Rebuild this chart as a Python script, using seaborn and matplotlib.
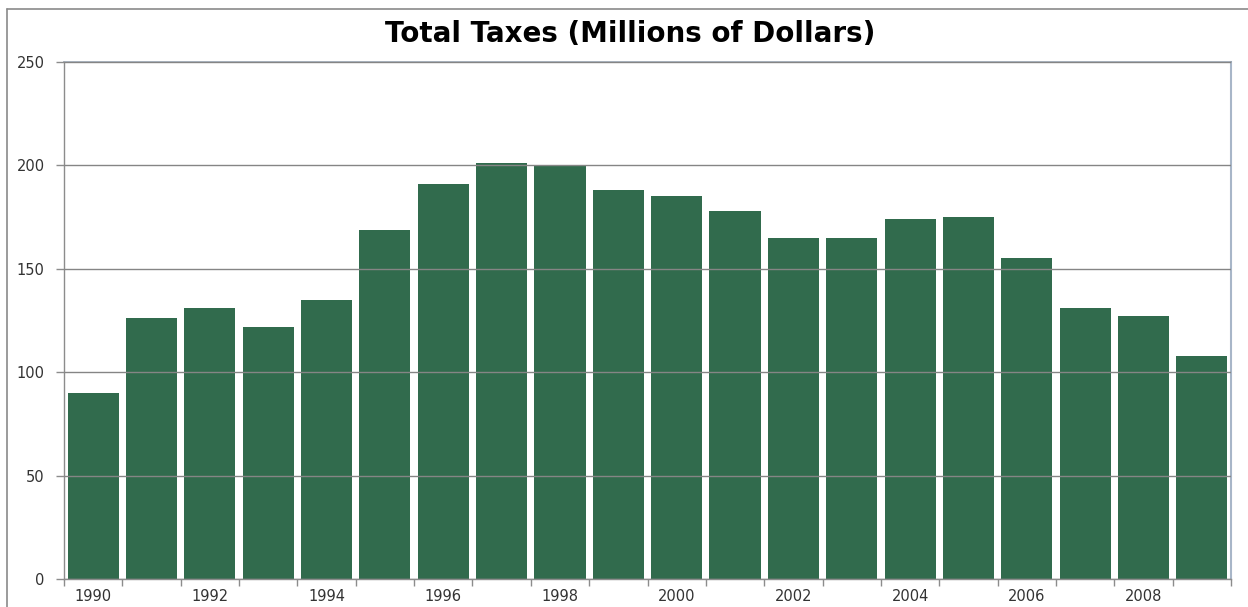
import matplotlib
matplotlib.use("Agg")
import matplotlib.pyplot as plt
import seaborn as sns
import pandas as pd
from matplotlib.lines import Line2D

years = [str(y) for y in range(1990, 2010)]
taxes = [90, 126, 131, 122, 135, 169, 191, 201, 200, 188,
         185, 178, 165, 165, 174, 175, 155, 131, 127, 108]
title = "Total Taxes (Millions of Dollars)"
y_ticks = [0, 50, 100, 150, 200, 250]
x_label_years = years[::2]

sns.set_theme(style="white")
plt.rcParams['font.family'] = ['DejaVu Sans']

W, H = 1248, 607
fig = plt.figure(figsize=(W / 100, H / 100), dpi=100)
ax = fig.add_axes([64 / W, (H - 579) / H, (1231 - 64) / W, (579 - 62) / H])

df = pd.DataFrame({"year": years, "taxes": taxes})
sns.barplot(data=df, x="year", y="taxes", color="#316b4d", saturation=1,
            width=0.875, ax=ax, linewidth=0)

ax.set_ylim(0, 250)
ax.set_xlim(-0.5, len(years) - 0.5)
ax.set_yticks(y_ticks)
ax.set_yticklabels([str(t) for t in y_ticks], fontsize=10.5, color="#333333")
ax.set_xticks([years.index(y) for y in x_label_years])
ax.set_xticklabels(x_label_years, fontsize=10.5, color="#333333")
ax.set_xticks([i - 0.5 for i in range(len(years) + 1)], minor=True)
ax.tick_params(axis="x", which="major", length=0, pad=7)
ax.tick_params(axis="x", which="minor", length=5, width=1, color="#8c8c8c", bottom=True)
ax.tick_params(axis="y", which="major", length=6, width=1, color="#8c8c8c", left=True, pad=8)
ax.set_xlabel("")
ax.set_ylabel("")

ax.yaxis.grid(True, color="#858585", linewidth=1)
ax.xaxis.grid(False)
ax.set_axisbelow(False)

for s in ["left", "bottom"]:
    ax.spines[s].set_visible(True)
    ax.spines[s].set_color("#8c8c8c")
    ax.spines[s].set_linewidth(1)
ax.spines["top"].set_visible(True)
ax.spines["top"].set_color("#9aa4b0")
ax.spines["right"].set_visible(True)
ax.spines["right"].set_color("#a8b6c8")
ax.spines["right"].set_linewidth(1.5)

fig.text(630 / W, 1 - 34 / H, title, ha="center", va="center",
         fontsize=20, fontweight="bold", family=["DejaVu Sans"],
         color="#000000")

# outer chart frame (left and top edges visible)
fig.add_artist(Line2D([7 / W, 7 / W], [0, 1 - 9 / H], transform=fig.transFigure,
                      color="#8a8a8a", linewidth=1.2))
fig.add_artist(Line2D([7 / W, 1], [1 - 9 / H, 1 - 9 / H], transform=fig.transFigure,
                      color="#8a8a8a", linewidth=1.2))

fig.savefig("out.png", dpi=100)
